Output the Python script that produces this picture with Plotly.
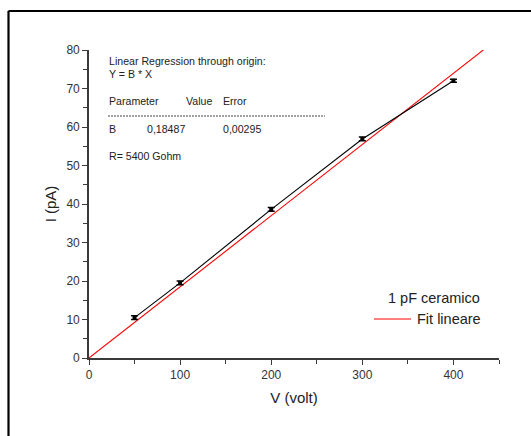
import plotly.graph_objects as go

# Measured current vs applied voltage for the 1 pF ceramic capacitor
voltage = [50, 100, 200, 300, 400]
current = [10.5, 19.5, 38.6, 56.9, 72.0]
current_err = [0.5, 0.5, 0.5, 0.5, 0.4]

# Linear regression through origin: Y = B * X
B = 0.18487
B_err = 0.00295
fit_x = [0, 433.8]
fit_y = [B * v for v in fit_x]

x_ticks = [0, 100, 200, 300, 400]
y_ticks = [0, 10, 20, 30, 40, 50, 60, 70, 80]

FONT = "Liberation Sans, Arial, sans-serif"
AXIS_COL = "#3a3a3a"

fig = go.Figure()

fig.add_trace(go.Scatter(
    x=fit_x, y=fit_y, mode="lines",
    line=dict(color="#ff0000", width=1.1),
    name="Fit lineare", showlegend=False,
))

fig.add_trace(go.Scatter(
    x=voltage, y=current, mode="lines+markers",
    line=dict(color="#000000", width=1.1),
    marker=dict(color="#000000", size=4, symbol="square"),
    error_y=dict(type="data", array=current_err, color="#000000",
                 thickness=1.5, width=3.5),
    name="1 pF ceramico", showlegend=False,
))

W, H = 531, 436
ML, MR, MT, MB = 89, 32, 50, 78
pw, ph = W - ML - MR, H - MT - MB


def px(xp):
    return (xp - ML) / pw


def py(yp):
    return (H - MB - yp) / ph


fig.update_layout(
    width=W, height=H,
    margin=dict(l=ML, r=MR, t=MT, b=MB),
    paper_bgcolor="white", plot_bgcolor="white",
    font=dict(family=FONT, color="#222222"),
    xaxis=dict(
        range=[0, 450], tickvals=x_ticks, showgrid=False, zeroline=False,
        showline=True, linecolor=AXIS_COL, linewidth=1.6,
        ticks="outside", ticklen=5, tickwidth=1.2, tickcolor=AXIS_COL,
        tickfont=dict(size=12, family=FONT, color="#333333"),
        minor=dict(dtick=50, ticks="outside", ticklen=4, tickwidth=1.2, tickcolor=AXIS_COL),
        title=dict(text="V (volt)", font=dict(size=15, family=FONT, color="#222222"), standoff=11),
    ),
    yaxis=dict(
        range=[0, 80], tickvals=y_ticks, showgrid=False, zeroline=False,
        showline=True, linecolor=AXIS_COL, linewidth=1.6,
        ticks="outside", ticklen=5, tickwidth=1.2, tickcolor=AXIS_COL,
        tickfont=dict(size=12, family=FONT, color="#333333"),
        minor=dict(dtick=5, ticks="outside", ticklen=4, tickwidth=1.2, tickcolor=AXIS_COL),
        title=dict(text="I (pA)", font=dict(size=15, family=FONT, color="#222222"), standoff=6),
    ),
)

small = dict(size=10.6, family=FONT, color="#222222")
notes = [
    (108, 61, "Linear Regression through origin:"),
    (108, 74, "Y = B * X"),
    (108, 101, "Parameter"),
    (185, 101, "Value"),
    (222, 101, "Error"),
    (108, 129, "B"),
    (146, 129, f"{B:.5f}".replace(".", ",")),
    (222, 129, f"{B_err:.5f}".replace(".", ",")),
    (108, 156, "R= 5400 Gohm"),
]
for xp, yp, t in notes:
    fig.add_annotation(x=px(xp), y=py(yp), xref="paper", yref="paper",
                       text=t, showarrow=False, xanchor="left", yanchor="middle",
                       font=small, xshift=-1)

# dashed separator under the header row
fig.add_shape(type="line", xref="paper", yref="paper",
              x0=px(108), x1=px(325), y0=py(116), y1=py(116),
              line=dict(color="#444444", width=1, dash="2px,1px"))

# legend drawn as text + sample line
leg = dict(size=14.5, family=FONT, color="#222222")
fig.add_annotation(x=px(482), y=py(298), xref="paper", yref="paper",
                   text="1 pF ceramico", showarrow=False, xanchor="right",
                   yanchor="middle", font=leg)
fig.add_annotation(x=px(483), y=py(319), xref="paper", yref="paper",
                   text="Fit lineare", showarrow=False, xanchor="right",
                   yanchor="middle", font=leg)
fig.add_shape(type="line", xref="paper", yref="paper",
              x0=px(374), x1=px(411), y0=py(319), y1=py(319),
              line=dict(color="#ff0000", width=1.1))

# outer frame (top and left edges)
fig.add_shape(type="line", xref="paper", yref="paper",
              x0=px(8.5), x1=px(W + 5), y0=py(11), y1=py(11),
              line=dict(color="black", width=2.2))
fig.add_shape(type="line", xref="paper", yref="paper",
              x0=px(8.5), x1=px(8.5), y0=py(11), y1=py(H + 5),
              line=dict(color="black", width=2.2))

fig.write_html("out.html")
